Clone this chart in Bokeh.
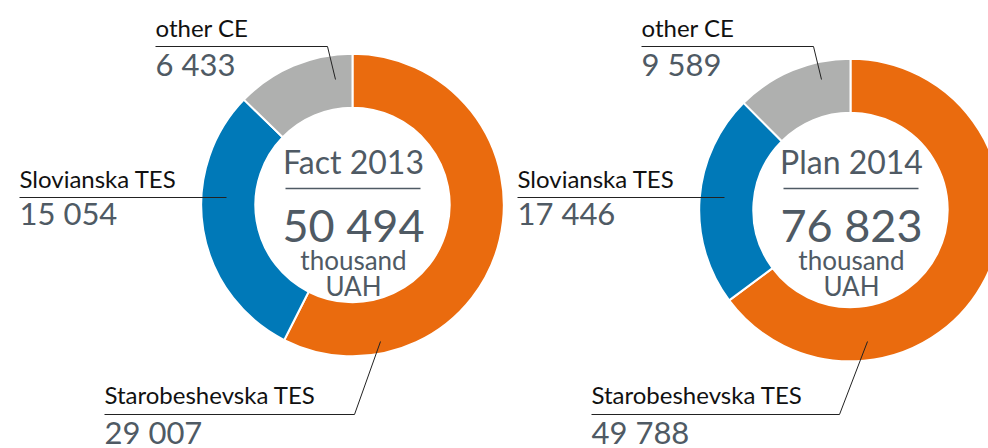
import numpy as np
from bokeh.plotting import figure
from bokeh.models import Range1d, ColumnDataSource
from bokeh.core.properties import value
from bokeh.embed import file_html
from bokeh.resources import INLINE

# ---- data ----
categories = ["Starobeshevska TES", "Slovianska TES", "other CE"]
fact_2013 = [29007, 15054, 6433]
plan_2014 = [49788, 17446, 9589]
titles = ["Fact 2013", "Plan 2014"]
unit_lines = ["thousand", "UAH"]

# ---- style ----
colors = ["#EA6B0E", "#0079B8", "#AFB0AF"]
FONT = value("Lato")
LABEL_COLOR = "#111111"
VALUE_COLOR = "#4F5A64"

W, H = 988, 448
def sy(y):
    # screen y (page pixels) -> data y
    return H - y

K = 0.39  # empirical baseline correction (fraction of font size)
def ty(baseline, size):
    return sy(baseline - K * size)

p = figure(width=W, height=H, x_range=Range1d(0, W), y_range=Range1d(0, H),
           output_backend="svg", toolbar_location=None, min_border=0,
           x_axis_type=None, y_axis_type=None)
p.grid.visible = False
p.outline_line_color = None
p.background_fill_color = "white"
p.border_fill_color = "white"

charts = [
    dict(values=fact_2013, title=titles[0], cx=352, cy=204.5,
         label_x=[104, 19, 155],
         leaders=[[(104, 414), (354, 414), (380, 341)],
                  [(19, 197), (226, 197)],
                  [(155, 46), (327, 46), (335, 79)]],
         div=(285, 420), tx=353),
    dict(values=plan_2014, title=titles[1], cx=850, cy=209.5,
         label_x=[591, 517, 641],
         leaders=[[(591, 414), (839, 414), (867, 341)],
                  [(517, 197), (724, 197)],
                  [(641, 46), (813, 46), (821, 79)]],
         div=(783, 918), tx=851),
]
label_base = [403, 187, 36]
value_base = [444, 225, 76]
R_OUT, R_IN = 151.3, 97.2
S_LABEL, S_VALUE, S_TITLE, S_TOTAL, S_UNIT = 24, 31, 32, 45, 26

def fmt(v):
    return f"{v:,}".replace(",", " ")

for ch in charts:
    vals = np.array(ch["values"], dtype=float)
    total = vals.sum()
    frac = vals / total * 2 * np.pi
    cum_end = np.cumsum(frac)
    cum_start = cum_end - frac
    # clockwise from top
    start = np.pi / 2 - cum_end
    end = np.pi / 2 - cum_start
    src = ColumnDataSource(dict(x=[ch["cx"]] * 3, y=[sy(ch["cy"])] * 3,
                                start=start, end=end, color=colors))
    p.annular_wedge(x="x", y="y", inner_radius=R_IN, outer_radius=R_OUT,
                    start_angle="start", end_angle="end", direction="anticlock",
                    fill_color="color", line_color="white", line_width=2, source=src)

    # leader lines
    xs = [[pt[0] for pt in ld] for ld in ch["leaders"]]
    ys = [[sy(pt[1]) for pt in ld] for ld in ch["leaders"]]
    p.multi_line(xs=xs, ys=ys, line_color="#222222", line_width=1)

    # labels & values
    p.text(x=ch["label_x"], y=[ty(b, S_LABEL) for b in label_base], text=categories,
           text_font=FONT, text_font_size=f"{S_LABEL}px", text_color=LABEL_COLOR,
           text_baseline="alphabetic", text_align="left")
    p.text(x=ch["label_x"], y=[ty(b, S_VALUE) for b in value_base],
           text=[fmt(v) for v in ch["values"]],
           text_font=FONT, text_font_size=f"{S_VALUE}px", text_color=VALUE_COLOR,
           text_baseline="alphabetic", text_align="left")

    # centre text
    p.text(x=[ch["tx"]], y=[ty(173, S_TITLE)], text=[ch["title"]], text_font=FONT,
           text_font_size=f"{S_TITLE}px", text_color=VALUE_COLOR,
           text_baseline="alphabetic", text_align="center")
    p.line(x=list(ch["div"]), y=[sy(188), sy(188)], line_color=VALUE_COLOR, line_width=1.5)
    p.text(x=[ch["tx"]], y=[ty(242, S_TOTAL)], text=[fmt(int(total))], text_font=FONT,
           text_font_size=f"{S_TOTAL}px", text_color=VALUE_COLOR,
           text_baseline="alphabetic", text_align="center")
    p.text(x=[ch["tx"]] * 2, y=[ty(270, S_UNIT), ty(296, S_UNIT)], text=unit_lines,
           text_font=FONT, text_font_size=f"{S_UNIT}px", text_color=VALUE_COLOR,
           text_baseline="alphabetic", text_align="center")

open("out.html", "w").write(file_html(p, INLINE))
